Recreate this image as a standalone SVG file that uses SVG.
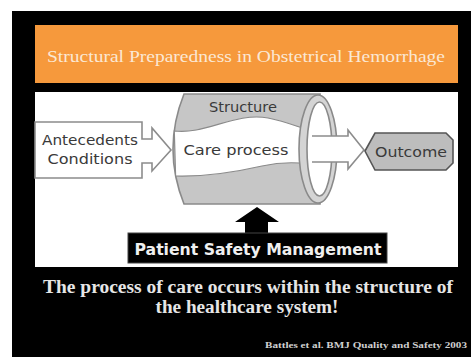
<svg xmlns="http://www.w3.org/2000/svg" width="471" height="357" viewBox="0 0 471 357">
<style>
.lbl{font-family:"DejaVu Sans","Liberation Sans",sans-serif;fill:#3a3a3a;font-size:14px}
.ser{font-family:"Liberation Serif","DejaVu Serif",serif}
.ol{fill:#fff;stroke:#8c8c8c;stroke-width:1.6}
</style>
<rect x="0" y="0" width="471" height="357" fill="#fff"/>
<rect x="12" y="11" width="459" height="346" fill="#000"/>
<g id="title">
<rect x="35" y="25" width="423" height="58" fill="#f6993c"/>
<text x="246" y="62" class="ser" font-size="16" fill="#fbe8d4" text-anchor="middle" textLength="398" lengthAdjust="spacingAndGlyphs">Structural Preparedness in Obstetrical Hemorrhage</text>
</g>
<rect id="panel" x="35" y="92" width="423" height="175" fill="#fff"/>
<g id="antecedents">
<path class="ol" d="M35,122 H142 V139 H152 V128 L171,150 L152,171 V163 H142 V178 H35 Z"/>
<text class="lbl" x="90" y="145" text-anchor="middle" textLength="96" lengthAdjust="spacingAndGlyphs">Antecedents</text>
<text class="lbl" x="90" y="164" text-anchor="middle" textLength="85" lengthAdjust="spacingAndGlyphs">Conditions</text>
</g>
<g id="structure">
<path d="M320,94 H184 Q162,149 184,204 H320 Z" fill="#c6c6c6" stroke="#8a8a8a" stroke-width="1.6"/>
<path d="M174.3,131 C205,135 235,112 268,118 C288,122 300,128 309,130 L309,164 C295,162 280,162 262,166 C240,171 210,177 175.6,176 Z" fill="#fff" stroke="#8a8a8a" stroke-width="1.2"/>
<ellipse cx="318" cy="149" rx="19" ry="54" fill="#d4d4d4" stroke="#8a8a8a" stroke-width="1.6"/>
<ellipse cx="319.5" cy="149" rx="12.5" ry="47" fill="#fff" stroke="#8a8a8a" stroke-width="1.6"/>
<text class="lbl" x="243" y="112" text-anchor="middle" textLength="68" lengthAdjust="spacingAndGlyphs">Structure</text>
<text class="lbl" x="236" y="155" text-anchor="middle" font-size="15" textLength="105" lengthAdjust="spacingAndGlyphs">Care process</text>
</g>
<g id="connectors">
<path d="M312,136 H348 V130 L364,150 L348,169 V162 H312 Z" fill="#fff"/>
<path d="M312,136 H348 V130 L364,150 L348,169 V162 H312" fill="none" stroke="#8c8c8c" stroke-width="1.6"/>
<path d="M257,207 L279,222 H268 V235 H245 V222 H235 Z" fill="#000"/>
</g>
<g id="outcome">
<path d="M365,151 L375,133 H446 L453,140 V163 L446,170 H375 Z" fill="#bdbdbd" stroke="#555" stroke-width="1.6"/>
<text class="lbl" x="411" y="157" text-anchor="middle" fill="#2a2a2a" font-size="15" textLength="72" lengthAdjust="spacingAndGlyphs">Outcome</text>
</g>
<g id="psm">
<rect x="128" y="233" width="259" height="30" fill="#000" stroke="#444" stroke-width="1"/>
<text x="258" y="255" font-family="DejaVu Sans,Liberation Sans,sans-serif" font-weight="bold" font-size="16" fill="#f0f0f0" text-anchor="middle" textLength="247" lengthAdjust="spacingAndGlyphs">Patient Safety Management</text>
</g>
<g id="caption" class="ser" fill="#e6e6e6" font-weight="bold">
<text x="248" y="293" font-size="18" text-anchor="middle" textLength="410" lengthAdjust="spacingAndGlyphs">The process of care occurs within the structure of</text>
<text x="247" y="313" font-size="18" text-anchor="middle" textLength="183" lengthAdjust="spacingAndGlyphs">the healthcare system!</text>
<text x="467" y="348" font-size="8.5" text-anchor="end" fill="#cfcfcf" textLength="202" lengthAdjust="spacingAndGlyphs">Battles et al. BMJ Quality and Safety 2003</text>
</g>
</svg>
